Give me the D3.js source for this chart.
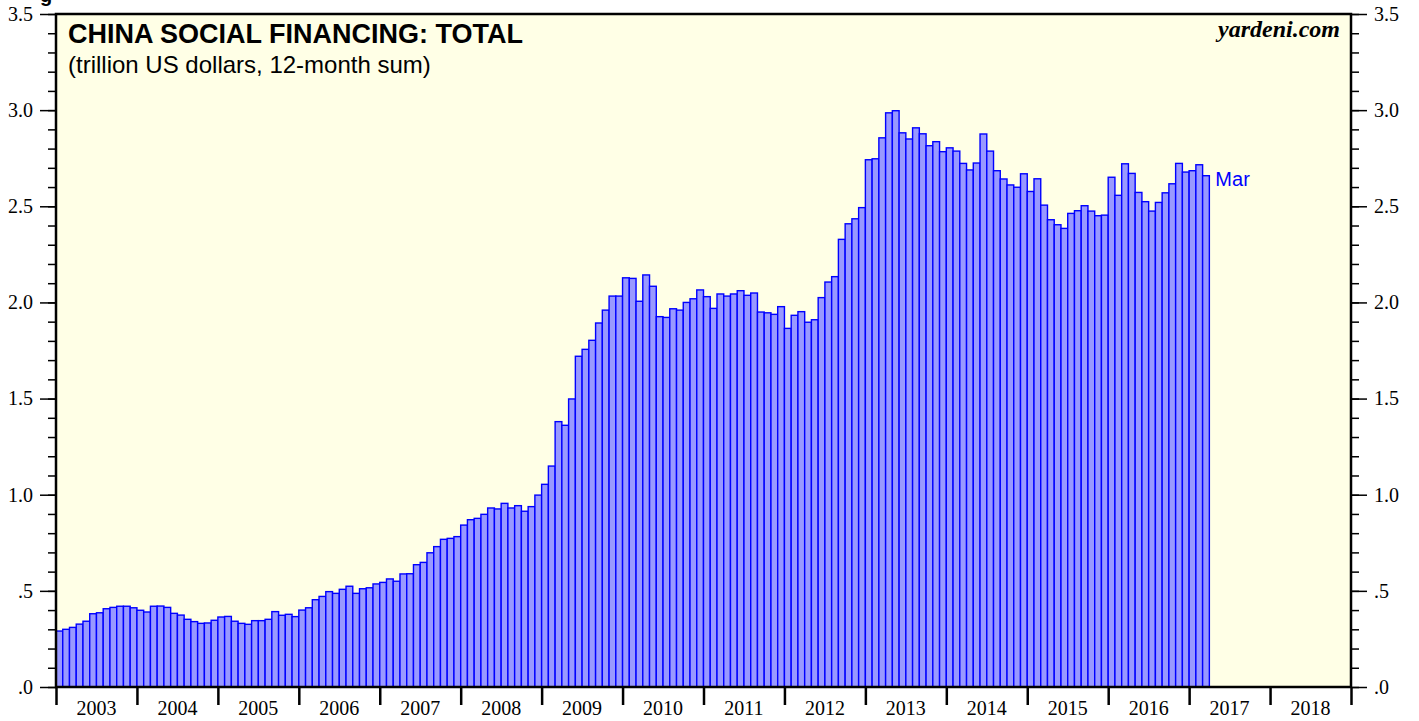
<!DOCTYPE html>
<meta charset="utf-8">
<style>
body { margin: 0; background: #fff; }
.bar { fill: #9999ff; stroke: #0000ff; stroke-width: 1.4px; }
.axis text { font-family: "Liberation Serif", "Times New Roman", serif; font-size: 20px; fill: #000; }
.axis line, .axis path { stroke: #000; }
</style>
<body>
<script src="https://d3js.org/d3.v7.min.js"></script>
<script>

// monthly values, trillion US dollars (12-month sum), Jan..Dec
var v2003 = [0.291, 0.300, 0.310, 0.327, 0.342, 0.381, 0.386, 0.407, 0.414, 0.420, 0.420, 0.412];
var v2004 = [0.399, 0.390, 0.420, 0.421, 0.414, 0.383, 0.374, 0.352, 0.340, 0.331, 0.333, 0.347];
var v2005 = [0.364, 0.367, 0.342, 0.331, 0.326, 0.345, 0.345, 0.352, 0.392, 0.373, 0.378, 0.366];
var v2006 = [0.400, 0.412, 0.454, 0.471, 0.496, 0.487, 0.508, 0.524, 0.487, 0.511, 0.516, 0.536];
var v2007 = [0.544, 0.562, 0.550, 0.588, 0.589, 0.636, 0.648, 0.698, 0.730, 0.768, 0.773, 0.782];
var v2008 = [0.842, 0.870, 0.877, 0.898, 0.931, 0.926, 0.955, 0.931, 0.943, 0.914, 0.938, 0.998];
var v2009 = [1.054, 1.149, 1.380, 1.361, 1.498, 1.720, 1.756, 1.803, 1.893, 1.960, 2.033, 2.033];
var v2010 = [2.128, 2.125, 2.006, 2.143, 2.084, 1.926, 1.922, 1.967, 1.960, 2.000, 2.019, 2.065];
var v2011 = [2.030, 1.969, 2.044, 2.033, 2.044, 2.061, 2.037, 2.049, 1.950, 1.946, 1.938, 1.978];
var v2012 = [1.865, 1.933, 1.952, 1.897, 1.910, 2.025, 2.106, 2.134, 2.328, 2.409, 2.435, 2.493];
var v2013 = [2.742, 2.747, 2.856, 2.986, 2.997, 2.882, 2.850, 2.908, 2.877, 2.815, 2.836, 2.784];
var v2014 = [2.804, 2.787, 2.723, 2.689, 2.725, 2.876, 2.787, 2.685, 2.642, 2.611, 2.599, 2.669];
var v2015 = [2.577, 2.643, 2.506, 2.430, 2.404, 2.385, 2.463, 2.477, 2.503, 2.475, 2.451, 2.454];
var v2016 = [2.651, 2.557, 2.721, 2.671, 2.572, 2.524, 2.475, 2.520, 2.570, 2.617, 2.723, 2.678];
var v2017 = [2.685, 2.716, 2.659];

var years = d3.range(2003, 2019);
var yMajor = [0, 0.5, 1.0, 1.5, 2.0, 2.5, 3.0, 3.5];
var lastLabel = "Mar";

var values = [].concat(v2003, v2004, v2005, v2006, v2007, v2008, v2009, v2010,
                       v2011, v2012, v2013, v2014, v2015, v2016, v2017);

// plot box
var plotL = 56, plotR = 1351, plotT = 14, plotB = 687;

var svg = d3.select("body").append("svg")
    .attr("width", 1419)
    .attr("height", 721);

// month index scale
var x = d3.scaleLinear().domain([0, years.length * 12]).range([plotL, plotR]);
var y = d3.scaleLinear().domain([0, 3.5]).range([plotB, plotT]);

svg.append("rect")
    .attr("x", plotL).attr("y", plotT)
    .attr("width", plotR - plotL).attr("height", plotB - plotT)
    .style("fill", "#ffffe6");

// bars
svg.selectAll(".bar")
    .data(values)
  .enter().append("rect")
    .attr("class", "bar")
    .attr("x", function(d, i) { return x(i); })
    .attr("width", function(d, i) { return x(i + 1) - x(i); })
    .attr("y", function(d) { return y(d); })
    .attr("height", function(d) { return plotB - y(d); });

// label on the last bar
var n = values.length;
svg.append("text")
    .attr("x", x(n) + 6)
    .attr("y", y(values[n - 1]))
    .attr("dy", "0.5em")
    .style("font-family", "'Liberation Sans', Arial, sans-serif")
    .style("font-size", "20px")
    .style("fill", "#0000ff")
    .text(lastLabel);

// y axes (minor ticks every 0.1, labelled every 0.5)
var fmt = function(d) { return d < 1 ? d3.format(".1f")(d).replace(/^0/, "") : d3.format(".1f")(d); };
var minor = d3.range(0, 36).map(function(i) { return i / 10; });

svg.append("g").attr("class", "axis")
    .attr("transform", "translate(" + plotL + ",0)")
    .call(d3.axisLeft(y).tickValues(minor).tickSize(8).tickFormat(""))
    .call(function(g) { g.select(".domain").remove(); });
svg.append("g").attr("class", "axis")
    .attr("transform", "translate(" + plotL + ",0)")
    .call(d3.axisLeft(y).tickValues(yMajor).tickSize(16).tickPadding(7).tickFormat(fmt))
    .call(function(g) { g.select(".domain").remove(); });

svg.append("g").attr("class", "axis")
    .attr("transform", "translate(" + plotR + ",0)")
    .call(d3.axisRight(y).tickValues(minor).tickSize(8).tickFormat(""))
    .call(function(g) { g.select(".domain").remove(); });
svg.append("g").attr("class", "axis")
    .attr("transform", "translate(" + plotR + ",0)")
    .call(d3.axisRight(y).tickValues(yMajor).tickSize(16).tickPadding(7).tickFormat(fmt))
    .call(function(g) { g.select(".domain").remove(); });

svg.selectAll(".axis .tick line").style("stroke-width", "1.5px");

// x axis: year boundaries + centered labels
var xAxis = svg.append("g").attr("class", "axis")
    .attr("transform", "translate(0," + plotB + ")");
xAxis.call(d3.axisBottom(x).tickValues(d3.range(0, years.length * 12 + 1, 12)).tickSize(18).tickFormat(""))
    .call(function(g) { g.select(".domain").remove(); });
xAxis.selectAll(".tick line").style("stroke-width", "2.5px");
xAxis.selectAll(".ylab")
    .data(years)
  .enter().append("text")
    .attr("class", "ylab")
    .attr("x", function(d, i) { return x(i * 12 + 6); })
    .attr("y", 28)
    .attr("text-anchor", "middle")
    .text(function(d) { return d; });

// frame
svg.append("rect")
    .attr("x", plotL).attr("y", plotT)
    .attr("width", plotR - plotL).attr("height", plotB - plotT)
    .style("fill", "none")
    .style("stroke", "#000")
    .style("stroke-width", "2.5px");

// titles
svg.append("text")
    .attr("x", 68).attr("y", 43)
    .style("font-family", "'Liberation Sans', Arial, sans-serif")
    .style("font-weight", "bold")
    .style("font-size", "27px")
    .text("CHINA SOCIAL FINANCING: TOTAL");

svg.append("text")
    .attr("x", 68).attr("y", 73)
    .style("font-family", "'Liberation Sans', Arial, sans-serif")
    .style("font-size", "24px")
    .text("(trillion US dollars, 12-month sum)");

svg.append("text")
    .attr("x", 1340).attr("y", 37)
    .attr("text-anchor", "end")
    .style("font-family", "'Liberation Serif', 'Times New Roman', serif")
    .style("font-weight", "bold")
    .style("font-style", "italic")
    .style("font-size", "24px")
    .text("yardeni.com");

// clipped heading letter at the very top
svg.append("text")
    .attr("x", 40).attr("y", 2)
    .style("font-family", "'Liberation Sans', Arial, sans-serif")
    .style("font-weight", "bold")
    .style("font-size", "20px")
    .text("g");

</script>
</body>
